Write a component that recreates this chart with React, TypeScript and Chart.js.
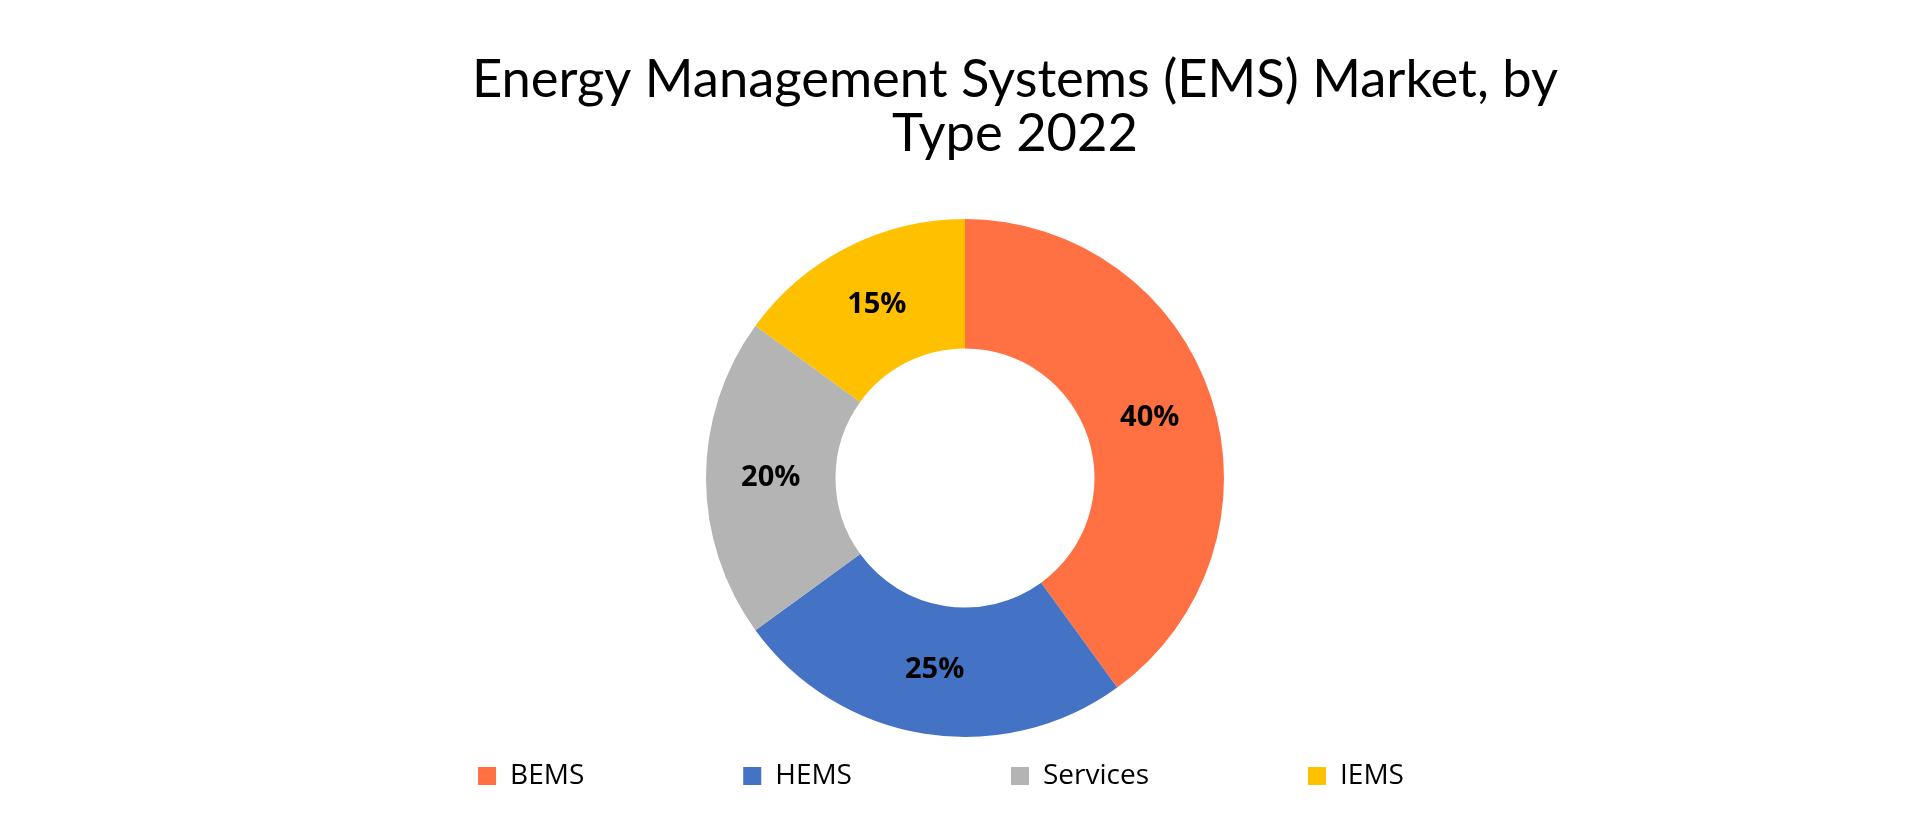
import React, { useEffect, useRef } from "react";
import { Chart, registerables } from "chart.js";

Chart.register(...registerables);

const categories = ["BEMS", "HEMS", "Services", "IEMS"];
const shares = [40, 25, 20, 15];
const sliceColors = ["#FF7043", "#4472C4", "#B4B4B4", "#FFC000"];
const titleLines = ["Energy Management Systems (EMS) Market, by", "Type 2022"];

const TITLE_SHIFT = 50;
const LEGEND_SHIFT = -24;

const shiftPlugin = {
  id: "shiftBoxes",
  afterLayout(chart: any) {
    const t = chart.titleBlock;
    if (t) {
      t.left += TITLE_SHIFT;
      t.right += TITLE_SHIFT;
    }
    const l = chart.legend;
    if (l) {
      l.left += LEGEND_SHIFT;
      l.right += LEGEND_SHIFT;
    }
  },
};

const labelPlugin = {
  id: "sliceLabels",
  afterDatasetsDraw(chart: any) {
    const ctx = chart.ctx;
    const meta = chart.getDatasetMeta(0);
    ctx.save();
    ctx.font = "bold 29px 'Open Sans'";
    ctx.fillStyle = "#000000";
    ctx.textAlign = "center";
    ctx.textBaseline = "middle";
    meta.data.forEach((arc: any, i: number) => {
      const p = arc.getCenterPoint();
      ctx.fillText(shares[i] + "%", p.x, p.y);
    });
    ctx.restore();
  },
};

export default function App() {
  const ref = useRef<HTMLCanvasElement | null>(null);
  useEffect(() => {
    if (!ref.current) return;
    const chart = new Chart(ref.current, {
      type: "doughnut",
      data: {
        labels: categories,
        datasets: [
          {
            data: shares,
            backgroundColor: sliceColors,
            borderWidth: 0,
            radius: 259,
            cutout: "50%",
          },
        ],
      },
      options: {
        responsive: false,
        animation: false,
        events: [],
        layout: { padding: { left: 10, right: 0, top: 0, bottom: 10 } },
        plugins: {
          title: {
            display: true,
            text: titleLines,
            color: "#000000",
            font: { family: "Lato", size: 52.5, weight: "normal", lineHeight: 54 / 52.5 },
            padding: { top: 45, bottom: 192 },
          },
          legend: {
            display: true,
            position: "bottom",
            labels: {
              boxWidth: 18,
              boxHeight: 18,
              padding: 159,
              color: "#000000",
              font: { family: "Open Sans", size: 28 },
            },
          },
          tooltip: { enabled: false },
        },
      },
      plugins: [shiftPlugin, labelPlugin],
    });
    return () => chart.destroy();
  }, []);
  return (
    <canvas ref={ref} width={1904} height={802} style={{ display: "block" }} />
  );
}
